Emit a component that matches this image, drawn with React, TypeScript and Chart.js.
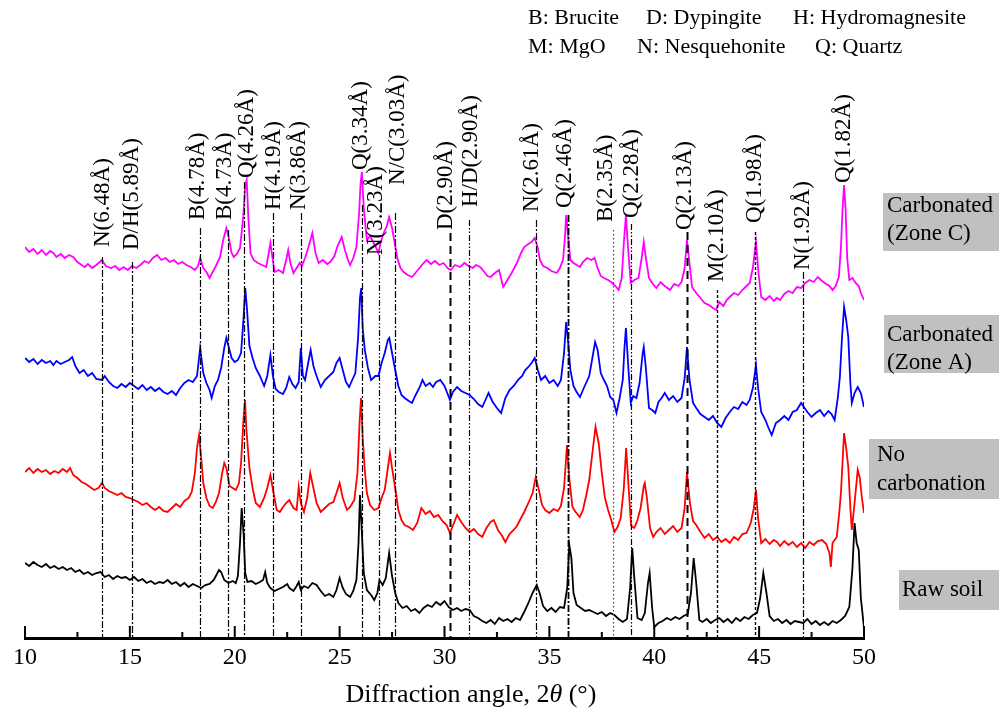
import React, { useEffect, useRef } from 'react';
import { Chart, registerables } from 'chart.js';

Chart.register(...registerables);

// ---------- data ----------
const xTickValues = [10, 15, 20, 25, 30, 35, 40, 45, 50];
const seriesNames = ['Raw soil', 'No carbonation', 'Carbonated (Zone A)', 'Carbonated (Zone C)'];
const seriesColors = ['#000000', '#ff0000', '#0000ff', '#ff00ff'];

// [2θ, relative intensity]
const rawSoil: number[][] = [
  [10.0, 75], [10.2, 72], [10.4, 76], [10.6, 73], [10.8, 71], [11.0, 74], [11.2, 70], [11.4, 72], [11.6, 69], [11.8, 71],
  [12.0, 68], [12.2, 70], [12.4, 66], [12.6, 68], [12.8, 64], [13.0, 66], [13.2, 63], [13.4, 65], [13.6, 66], [13.8, 61],
  [14.0, 63], [14.2, 59], [14.4, 62], [14.6, 60], [14.8, 61], [15.0, 58], [15.2, 61], [15.4, 57], [15.6, 59], [15.8, 55],
  [16.0, 57], [16.2, 54], [16.4, 56], [16.6, 55], [16.8, 58], [17.0, 54], [17.2, 56], [17.4, 52], [17.6, 55], [17.8, 51],
  [18.0, 54], [18.2, 52], [18.4, 50], [18.6, 53], [18.8, 54], [19.0, 58], [19.15, 64], [19.25, 68], [19.35, 66], [19.5, 58],
  [19.7, 55], [19.9, 57], [20.05, 55], [20.15, 62], [20.25, 95], [20.33, 130], [20.42, 105], [20.5, 65], [20.6, 56], [20.8, 57],
  [21.0, 54], [21.2, 56], [21.35, 58], [21.45, 66], [21.55, 55], [21.7, 50], [21.9, 47], [22.1, 49], [22.3, 51], [22.5, 54],
  [22.6, 50], [22.8, 47], [22.95, 52], [23.05, 56], [23.15, 48], [23.3, 52], [23.5, 50], [23.7, 55], [23.9, 53], [24.1, 47],
  [24.3, 42], [24.5, 44], [24.7, 41], [24.85, 48], [25.0, 60], [25.15, 50], [25.3, 44], [25.5, 41], [25.65, 47], [25.8, 58],
  [25.9, 95], [25.97, 143], [26.05, 110], [26.15, 65], [26.3, 48], [26.5, 43], [26.65, 38], [26.8, 45], [26.9, 58], [27.05, 53],
  [27.2, 60], [27.36, 85], [27.5, 62], [27.65, 45], [27.8, 35], [28.0, 30], [28.2, 32], [28.4, 27], [28.6, 29], [28.8, 25],
  [29.0, 30], [29.2, 33], [29.4, 31], [29.6, 36], [29.8, 33], [30.0, 37], [30.2, 31], [30.4, 28], [30.6, 30], [30.8, 27],
  [31.0, 29], [31.2, 28], [31.4, 22], [31.6, 20], [31.8, 17], [32.0, 15], [32.2, 18], [32.4, 14], [32.6, 20], [32.8, 17],
  [33.0, 19], [33.2, 16], [33.4, 20], [33.6, 18], [33.8, 26], [34.0, 35], [34.2, 45], [34.4, 53], [34.55, 44], [34.7, 32],
  [34.9, 27], [35.1, 30], [35.3, 26], [35.5, 31], [35.7, 30], [35.85, 50], [35.95, 93], [36.05, 80], [36.15, 45], [36.3, 33],
  [36.5, 30], [36.7, 27], [36.9, 28], [37.1, 26], [37.3, 24], [37.5, 26], [37.7, 22], [37.9, 25], [38.1, 23], [38.3, 19],
  [38.5, 16], [38.7, 19], [38.85, 50], [38.95, 90], [39.05, 60], [39.2, 20], [39.4, 18], [39.55, 25], [39.7, 55], [39.78, 65],
  [39.9, 30], [40.0, 11], [40.2, 15], [40.4, 17], [40.6, 20], [40.8, 18], [41.0, 21], [41.2, 19], [41.4, 22], [41.6, 24],
  [41.75, 45], [41.88, 80], [42.0, 55], [42.15, 18], [42.3, 16], [42.5, 19], [42.7, 15], [42.9, 18], [43.1, 20], [43.3, 16],
  [43.5, 19], [43.7, 15], [43.9, 20], [44.1, 17], [44.3, 21], [44.5, 19], [44.7, 23], [44.9, 25], [45.05, 40], [45.2, 65],
  [45.35, 45], [45.5, 22], [45.7, 17], [45.9, 19], [46.1, 15], [46.3, 18], [46.5, 14], [46.7, 17], [46.9, 16], [47.1, 15],
  [47.3, 19], [47.5, 14], [47.7, 17], [47.9, 13], [48.1, 16], [48.3, 13], [48.5, 17], [48.7, 15], [48.9, 18], [49.1, 22],
  [49.3, 31], [49.45, 70], [49.55, 115], [49.65, 95], [49.75, 88], [49.85, 40], [50.0, 10],
];

const noCarbonation: number[][] = [
  [10.0, 166], [10.2, 170], [10.4, 165], [10.6, 169], [10.8, 166], [11.0, 168], [11.2, 164], [11.4, 167], [11.6, 165], [11.8, 169],
  [12.0, 166], [12.15, 170], [12.3, 163], [12.5, 160], [12.7, 156], [12.9, 154], [13.1, 151], [13.3, 148], [13.5, 150], [13.67, 155],
  [13.8, 150], [14.0, 147], [14.2, 145], [14.4, 143], [14.6, 145], [14.8, 141], [15.0, 140], [15.2, 138], [15.4, 136], [15.6, 133],
  [15.8, 135], [16.0, 131], [16.2, 128], [16.4, 131], [16.6, 127], [16.8, 126], [17.0, 130], [17.2, 134], [17.4, 131], [17.6, 137],
  [17.8, 140], [17.95, 146], [18.1, 165], [18.2, 190], [18.3, 203], [18.4, 180], [18.5, 155], [18.65, 140], [18.8, 132], [18.95, 130],
  [19.1, 136], [19.25, 145], [19.4, 165], [19.5, 175], [19.6, 170], [19.75, 152], [19.9, 150], [20.05, 148], [20.2, 155], [20.3, 175],
  [20.42, 220], [20.49, 238], [20.55, 210], [20.7, 170], [20.85, 150], [21.0, 135], [21.2, 131], [21.4, 140], [21.55, 150], [21.7, 163],
  [21.85, 145], [22.0, 128], [22.15, 126], [22.3, 131], [22.45, 135], [22.6, 138], [22.8, 130], [22.95, 128], [23.05, 151], [23.15, 135],
  [23.3, 126], [23.45, 140], [23.6, 165], [23.75, 150], [23.9, 135], [24.1, 126], [24.3, 130], [24.5, 134], [24.7, 136], [24.85, 145],
  [25.0, 155], [25.15, 140], [25.35, 128], [25.5, 131], [25.7, 138], [25.85, 165], [25.95, 215], [26.02, 240], [26.1, 200], [26.2, 168],
  [26.3, 145], [26.45, 133], [26.65, 128], [26.85, 130], [27.0, 140], [27.15, 148], [27.3, 170], [27.4, 185], [27.5, 170], [27.65, 150],
  [27.8, 128], [27.95, 118], [28.1, 113], [28.3, 111], [28.5, 108], [28.7, 115], [28.9, 130], [29.1, 124], [29.3, 127], [29.5, 121],
  [29.7, 123], [29.9, 117], [30.1, 113], [30.26, 105], [30.45, 115], [30.6, 123], [30.8, 116], [31.0, 110], [31.2, 106], [31.4, 109],
  [31.6, 104], [31.8, 101], [32.0, 110], [32.2, 116], [32.35, 118], [32.55, 108], [32.75, 102], [32.9, 96], [33.1, 104], [33.3, 108],
  [33.45, 112], [33.6, 118], [33.8, 126], [34.0, 135], [34.2, 145], [34.35, 161], [34.5, 148], [34.65, 133], [34.8, 128], [35.0, 125],
  [35.2, 129], [35.4, 127], [35.55, 132], [35.7, 150], [35.84, 193], [35.95, 160], [36.1, 131], [36.25, 126], [36.45, 121], [36.6, 128],
  [36.75, 142], [36.9, 158], [37.05, 185], [37.2, 211], [37.35, 195], [37.5, 165], [37.65, 140], [37.8, 128], [37.95, 118], [38.1, 106],
  [38.25, 111], [38.4, 120], [38.55, 150], [38.66, 190], [38.78, 150], [38.9, 112], [39.05, 110], [39.2, 118], [39.35, 130], [39.5, 152],
  [39.55, 155], [39.65, 140], [39.8, 110], [39.95, 101], [40.1, 106], [40.3, 110], [40.5, 104], [40.7, 108], [40.9, 112], [41.1, 106],
  [41.3, 110], [41.45, 130], [41.56, 166], [41.7, 135], [41.85, 117], [42.0, 113], [42.2, 106], [42.4, 100], [42.6, 104], [42.8, 98],
  [43.0, 101], [43.2, 96], [43.4, 99], [43.6, 95], [43.8, 101], [44.0, 98], [44.2, 104], [44.4, 105], [44.6, 115], [44.75, 130],
  [44.85, 148], [44.95, 120], [45.1, 95], [45.3, 99], [45.5, 94], [45.7, 98], [45.85, 96], [46.0, 92], [46.2, 97], [46.4, 93],
  [46.6, 96], [46.8, 91], [47.0, 95], [47.2, 90], [47.4, 96], [47.6, 93], [47.8, 97], [48.0, 98], [48.2, 94], [48.35, 85],
  [48.42, 71], [48.5, 95], [48.7, 101], [48.82, 125], [48.9, 145], [49.05, 205], [49.15, 190], [49.25, 171], [49.35, 130], [49.42, 108],
  [49.55, 135], [49.7, 168], [49.8, 160], [49.9, 140], [50.0, 125],
];

const zoneA: number[][] = [
  [10.0, 280], [10.2, 276], [10.4, 279], [10.6, 274], [10.8, 278], [11.0, 275], [11.2, 277], [11.35, 273], [11.5, 277], [11.7, 274],
  [11.9, 276], [12.1, 278], [12.25, 281], [12.4, 272], [12.6, 265], [12.8, 268], [13.0, 262], [13.2, 265], [13.4, 259], [13.67, 258],
  [13.8, 262], [14.0, 256], [14.2, 252], [14.4, 250], [14.6, 254], [14.8, 251], [15.0, 255], [15.2, 252], [15.4, 249], [15.6, 253],
  [15.8, 248], [16.0, 251], [16.2, 247], [16.4, 250], [16.6, 246], [16.8, 244], [17.0, 247], [17.2, 243], [17.4, 250], [17.6, 255],
  [17.8, 258], [18.0, 256], [18.2, 262], [18.35, 290], [18.5, 265], [18.65, 255], [18.8, 248], [18.9, 240], [19.05, 252], [19.2, 258],
  [19.35, 270], [19.5, 290], [19.6, 300], [19.7, 292], [19.85, 280], [20.0, 276], [20.15, 278], [20.3, 285], [20.42, 320], [20.5, 350],
  [20.58, 330], [20.7, 292], [20.85, 280], [21.0, 270], [21.2, 262], [21.4, 252], [21.55, 262], [21.7, 283], [21.82, 262], [21.95, 249],
  [22.1, 246], [22.3, 244], [22.45, 250], [22.6, 261], [22.75, 254], [22.9, 250], [23.05, 256], [23.15, 290], [23.25, 262], [23.35, 258],
  [23.5, 275], [23.62, 288], [23.75, 272], [23.9, 262], [24.1, 251], [24.3, 258], [24.5, 262], [24.7, 266], [24.85, 275], [25.0, 280],
  [25.15, 268], [25.3, 256], [25.45, 251], [25.6, 258], [25.75, 265], [25.88, 300], [25.97, 340], [26.03, 350], [26.1, 310], [26.2, 288],
  [26.35, 270], [26.5, 258], [26.7, 262], [26.85, 262], [27.0, 275], [27.15, 285], [27.3, 298], [27.37, 300], [27.5, 285], [27.65, 268],
  [27.8, 252], [27.95, 243], [28.1, 240], [28.3, 237], [28.45, 235], [28.6, 242], [28.8, 250], [28.95, 258], [29.1, 252], [29.3, 255],
  [29.45, 251], [29.6, 256], [29.8, 258], [30.0, 252], [30.15, 244], [30.26, 238], [30.4, 246], [30.6, 251], [30.8, 247], [31.0, 245],
  [31.2, 243], [31.4, 239], [31.6, 234], [31.8, 231], [31.95, 238], [32.1, 245], [32.3, 236], [32.5, 230], [32.7, 225], [32.9, 240],
  [33.1, 248], [33.3, 252], [33.5, 258], [33.7, 262], [33.85, 268], [34.0, 271], [34.15, 275], [34.3, 280], [34.45, 268], [34.6, 258],
  [34.8, 262], [35.0, 255], [35.2, 258], [35.4, 252], [35.55, 258], [35.7, 285], [35.8, 316], [35.9, 295], [36.0, 268], [36.15, 252],
  [36.3, 246], [36.46, 241], [36.6, 248], [36.75, 255], [36.9, 262], [37.05, 280], [37.18, 296], [37.3, 288], [37.45, 265], [37.6, 258],
  [37.75, 252], [37.9, 241], [38.05, 238], [38.2, 225], [38.35, 240], [38.5, 258], [38.58, 290], [38.65, 310], [38.75, 275], [38.88, 235],
  [39.0, 242], [39.15, 240], [39.3, 255], [39.45, 285], [39.5, 291], [39.6, 270], [39.75, 230], [39.9, 228], [40.05, 225], [40.2, 236],
  [40.35, 240], [40.5, 245], [40.7, 238], [40.9, 242], [41.1, 236], [41.3, 240], [41.45, 260], [41.56, 291], [41.68, 258], [41.85, 235],
  [42.0, 230], [42.2, 224], [42.4, 221], [42.6, 218], [42.8, 222], [43.0, 215], [43.2, 211], [43.4, 220], [43.6, 226], [43.8, 231],
  [44.0, 229], [44.2, 236], [44.4, 233], [44.55, 238], [44.7, 250], [44.85, 273], [44.95, 250], [45.1, 226], [45.3, 218], [45.45, 210],
  [45.6, 203], [45.8, 215], [46.0, 218], [46.2, 222], [46.4, 218], [46.6, 226], [46.8, 228], [47.0, 235], [47.1, 232], [47.3, 226],
  [47.5, 221], [47.7, 225], [47.9, 228], [48.1, 222], [48.3, 227], [48.45, 224], [48.6, 218], [48.75, 240], [48.85, 261], [48.95, 300],
  [49.05, 331], [49.15, 318], [49.25, 301], [49.35, 255], [49.42, 235], [49.55, 245], [49.7, 251], [49.85, 245], [50.0, 231],
];

const zoneC: number[][] = [
  [10.0, 391], [10.2, 386], [10.4, 389], [10.6, 384], [10.8, 388], [11.0, 383], [11.2, 387], [11.35, 385], [11.5, 381], [11.7, 384],
  [11.9, 380], [12.1, 383], [12.3, 381], [12.5, 376], [12.7, 373], [12.85, 371], [13.0, 374], [13.2, 370], [13.4, 373], [13.67, 378],
  [13.85, 372], [14.1, 370], [14.3, 372], [14.5, 368], [14.7, 371], [14.9, 368], [15.1, 372], [15.3, 370], [15.5, 373], [15.7, 377],
  [15.9, 375], [16.1, 380], [16.3, 383], [16.5, 378], [16.7, 380], [16.9, 376], [17.1, 378], [17.3, 374], [17.5, 376], [17.7, 373],
  [17.9, 371], [18.1, 368], [18.25, 372], [18.35, 380], [18.5, 370], [18.65, 366], [18.8, 360], [18.95, 366], [19.1, 372], [19.3, 381],
  [19.45, 398], [19.6, 410], [19.72, 400], [19.85, 385], [19.95, 381], [20.1, 384], [20.25, 390], [20.4, 420], [20.5, 452], [20.57, 458],
  [20.65, 420], [20.75, 385], [20.9, 378], [21.1, 375], [21.3, 373], [21.5, 371], [21.62, 385], [21.7, 395], [21.8, 380], [21.9, 366],
  [22.1, 368], [22.3, 365], [22.45, 378], [22.55, 388], [22.65, 375], [22.8, 365], [22.95, 370], [23.1, 375], [23.2, 372], [23.35, 380],
  [23.5, 390], [23.7, 405], [23.85, 385], [24.0, 375], [24.2, 378], [24.4, 374], [24.55, 376], [24.75, 382], [24.9, 392], [25.1, 401],
  [25.25, 388], [25.4, 378], [25.5, 373], [25.65, 380], [25.8, 391], [25.93, 425], [26.0, 455], [26.06, 466], [26.15, 430], [26.3, 398],
  [26.45, 402], [26.55, 398], [26.7, 392], [26.85, 385], [26.95, 395], [27.1, 405], [27.25, 412], [27.36, 421], [27.5, 410], [27.6, 398],
  [27.75, 380], [27.9, 370], [28.05, 366], [28.25, 363], [28.45, 361], [28.65, 366], [28.85, 371], [29.0, 375], [29.15, 378], [29.35, 374],
  [29.55, 377], [29.75, 373], [29.95, 375], [30.15, 370], [30.3, 368], [30.5, 373], [30.74, 371], [30.95, 375], [31.15, 372], [31.35, 370],
  [31.5, 373], [31.7, 371], [31.9, 366], [32.05, 362], [32.2, 361], [32.4, 365], [32.6, 368], [32.8, 351], [33.0, 358], [33.2, 365],
  [33.45, 375], [33.65, 385], [33.8, 391], [34.0, 394], [34.15, 396], [34.3, 400], [34.45, 390], [34.55, 378], [34.7, 372], [34.9, 370],
  [35.1, 367], [35.35, 365], [35.5, 370], [35.65, 378], [35.74, 400], [35.8, 423], [35.88, 405], [36.0, 378], [36.15, 375], [36.3, 373],
  [36.46, 371], [36.6, 376], [36.8, 380], [37.0, 378], [37.15, 380], [37.3, 370], [37.45, 362], [37.6, 360], [37.8, 358], [38.0, 355],
  [38.15, 352], [38.3, 348], [38.45, 360], [38.55, 395], [38.65, 423], [38.75, 390], [38.88, 355], [39.05, 358], [39.25, 360], [39.4, 380],
  [39.5, 396], [39.6, 380], [39.75, 360], [39.9, 355], [40.1, 350], [40.3, 356], [40.5, 352], [40.75, 348], [40.95, 354], [41.15, 352],
  [41.3, 356], [41.45, 370], [41.56, 398], [41.68, 375], [41.8, 351], [42.0, 345], [42.2, 340], [42.4, 335], [42.6, 333], [42.8, 330],
  [42.95, 328], [43.1, 336], [43.3, 332], [43.45, 338], [43.6, 341], [43.8, 345], [44.0, 343], [44.2, 348], [44.4, 352], [44.55, 355],
  [44.7, 370], [44.85, 396], [44.97, 365], [45.1, 341], [45.3, 338], [45.5, 342], [45.7, 337], [45.85, 340], [46.0, 338], [46.2, 344],
  [46.4, 347], [46.6, 345], [46.8, 351], [47.0, 350], [47.2, 355], [47.4, 358], [47.6, 356], [47.8, 361], [48.0, 357], [48.2, 354],
  [48.35, 352], [48.5, 348], [48.65, 352], [48.8, 361], [48.9, 390], [48.98, 430], [49.05, 453], [49.12, 430], [49.2, 380], [49.3, 358],
  [49.45, 360], [49.6, 355], [49.75, 352], [49.85, 345], [50.0, 338],
];

const peakAngles = [13.67, 15.1, 18.35, 19.68, 20.44, 21.83, 23.16, 26.07, 26.88, 27.64, 30.26, 31.17, 34.36, 35.89, 38.03, 38.89, 41.56, 42.99, 44.8, 47.09, 49.05];
const peakLabels = ['N(6.48Å)', 'D/H(5.89Å)', 'B(4.78Å)', 'B(4.73Å)', 'Q(4.26Å)', 'H(4.19Å)', 'N(3.86Å)', 'Q(3.34Å)', 'N(3.23Å)', 'N/C(3.03Å)', 'D(2.90Å)', 'H/D(2.90Å)', 'N(2.61Å)', 'Q(2.46Å)', 'B(2.35Å)', 'Q(2.28Å)', 'Q(2.13Å)', 'M(2.10Å)', 'Q(1.98Å)', 'N(1.92Å)', 'Q(1.82Å)'];
const phaseLegendRows = [
  ['B: Brucite', 'D: Dypingite', 'H: Hydromagnesite'],
  ['M: MgO', 'N: Nesquehonite', 'Q: Quartz'],
];
const sampleBoxLines = [['Raw soil'], ['No', 'carbonation'], ['Carbonated', '(Zone A)'], ['Carbonated', '(Zone C)']];

// ---------- layout / style (pixels) ----------
const W = 999;
const H = 715;
const SERIF = '"Liberation Serif", "Times New Roman", serif';
const labelBottomY = [247, 250, 220, 220, 178, 210, 210, 170, 255, 185, 230, 207, 212, 208, 222, 218, 230, 282, 223, 270, 183];
const lineTopY = [257, 262, 228, 230, 182, 213, 213, 205, 255, 213, 233, 220, 220, 215, 230, 224, 232, 290, 232, 272, -1];
const labelDx = [1, 0, -2, -3, 3, 1, -2, -1, -3, 3, -4, 2, -4, -3, -7, 1, -2, 0, 0, 0, 0];
const lineKinds = ['dd', 'dd', 'dd', 'dd', 'dd', 'dd', 'dd', 'dd', 'ddd', 'dd', 'dash', 'ddd', 'dd', 'ddt', 'dot', 'ddd', 'dash', 'short', 'short', 'dd', 'none'];
const legendCols = [[528, 646, 793], [528, 637, 815]];
const legendRowY = [18, 47];
const boxRects = [
  { x: 899, y: 570, w: 100, h: 40, tx: 902, ty: [590] },
  { x: 869, y: 439, w: 130, h: 60, tx: 877, ty: [455, 484] },
  { x: 884, y: 315, w: 115, h: 58, tx: 887, ty: [335, 363] },
  { x: 883, y: 193, w: 116, h: 58, tx: 887, ty: [206, 234] },
];

const decorPlugin = {
  id: 'xrdDecor',
  afterDatasetsDraw(chart: any) {
    const { ctx, chartArea } = chart;
    const xs = chart.scales.x;
    const bottom = chartArea.bottom;
    // reference lines
    peakAngles.forEach((a, i) => {
      const kind = lineKinds[i];
      if (kind === 'none') return;
      const px = Math.round(xs.getPixelForValue(a)) + 0.5;
      ctx.save();
      ctx.strokeStyle = '#000';
      ctx.lineWidth = 1.2;
      if (kind === 'dd') ctx.setLineDash([7, 2, 2, 2]);
      else if (kind === 'ddt') { ctx.setLineDash([7, 2, 2, 2]); ctx.lineWidth = 1.8; }
      else if (kind === 'ddd') ctx.setLineDash([6, 2, 1.5, 2, 1.5, 2]);
      else if (kind === 'dash') { ctx.setLineDash([8, 5]); ctx.lineWidth = 2; }
      else if (kind === 'dot') { ctx.setLineDash([1.5, 2.5]); ctx.strokeStyle = '#444'; }
      else if (kind === 'short') { ctx.setLineDash([3, 2]); ctx.lineWidth = 1.4; }
      ctx.beginPath();
      ctx.moveTo(px, lineTopY[i]);
      ctx.lineTo(px, bottom);
      ctx.stroke();
      ctx.restore();
    });
    // labels
    ctx.save();
    ctx.fillStyle = '#000';
    ctx.font = `23px ${SERIF}`;
    ctx.textAlign = 'left';
    ctx.textBaseline = 'middle';
    peakAngles.forEach((a, i) => {
      const px = xs.getPixelForValue(a) + labelDx[i];
      ctx.save();
      ctx.translate(px, labelBottomY[i]);
      ctx.rotate(-Math.PI / 2);
      ctx.fillText(peakLabels[i], 0, 0);
      ctx.restore();
    });
    ctx.restore();
  },
  afterDraw(chart: any) {
    const { ctx, chartArea } = chart;
    const xs = chart.scales.x;
    const bottom = chartArea.bottom;
    // inward ticks
    ctx.save();
    ctx.strokeStyle = '#000';
    ctx.lineWidth = 2;
    const ticks = xs.ticks.map((t: any) => t.value);
    ticks.forEach((v: number, i: number) => {
      const px = xs.getPixelForValue(v);
      ctx.beginPath();
      ctx.moveTo(px, bottom);
      ctx.lineTo(px, bottom - 12);
      ctx.stroke();
      if (i < ticks.length - 1) {
        const mx = xs.getPixelForValue((v + ticks[i + 1]) / 2);
        ctx.beginPath();
        ctx.moveTo(mx, bottom);
        ctx.lineTo(mx, bottom - 6);
        ctx.stroke();
      }
    });
    ctx.restore();

    // phase legend
    ctx.save();
    ctx.fillStyle = '#000';
    ctx.font = `22px ${SERIF}`;
    ctx.textAlign = 'left';
    ctx.textBaseline = 'middle';
    phaseLegendRows.forEach((row, r) => {
      row.forEach((txt, c) => ctx.fillText(txt, legendCols[r][c], legendRowY[r]));
    });
    ctx.restore();

    // sample boxes
    ctx.save();
    boxRects.forEach((b, i) => {
      ctx.fillStyle = '#c0c0c0';
      ctx.fillRect(b.x, b.y, b.w, b.h);
      ctx.fillStyle = '#000';
      ctx.font = `23px ${SERIF}`;
      ctx.textAlign = 'left';
      ctx.textBaseline = 'middle';
      sampleBoxLines[i].forEach((ln, k) => ctx.fillText(ln, b.tx, b.ty[k]));
    });
    ctx.restore();

    // axis title with italic theta
    ctx.save();
    ctx.fillStyle = '#000';
    ctx.textBaseline = 'middle';
    ctx.textAlign = 'left';
    const parts = [
      { t: 'Diffraction angle, 2', f: `26px ${SERIF}` },
      { t: 'θ', f: `italic 26px ${SERIF}` },
      { t: ' (°)', f: `26px ${SERIF}` },
    ];
    let total = 0;
    parts.forEach((p) => { ctx.font = p.f; total += ctx.measureText(p.t).width; });
    let cx = 471 - total / 2;
    parts.forEach((p) => { ctx.font = p.f; ctx.fillText(p.t, cx, 695); cx += ctx.measureText(p.t).width; });
    ctx.restore();
  },
};

export default function App() {
  const ref = useRef<HTMLCanvasElement | null>(null);
  useEffect(() => {
    if (!ref.current) return;
    const series = [rawSoil, noCarbonation, zoneA, zoneC];
    const chart = new Chart(ref.current, {
      type: 'line',
      data: {
        datasets: series.map((s, i) => ({
          label: seriesNames[i],
          data: s.map((p) => ({ x: p[0], y: p[1] })),
          borderColor: seriesColors[i],
          borderWidth: 1.8,
          pointRadius: 0,
          tension: 0,
          fill: false,
        })),
      },
      options: {
        responsive: false,
        animation: false,
        devicePixelRatio: 1,
        layout: { padding: { left: 25, right: 135, top: 0, bottom: 0 } },
        plugins: { legend: { display: false }, tooltip: { enabled: false }, title: { display: false } },
        scales: {
          x: {
            type: 'linear',
            min: 10,
            max: 50,
            grid: { display: false, drawTicks: false },
            border: { display: true, color: '#000', width: 3 },
            ticks: {
              stepSize: 5,
              color: '#000',
              padding: 5,
              font: { family: SERIF, size: 24 },
              callback: (v: any) => (xTickValues.includes(Number(v)) ? String(v) : ''),
            },
            afterFit: (scale: any) => { scale.height = 77; },
          },
          y: { display: false, min: 0, max: 638 },
        },
      },
      plugins: [decorPlugin],
    });
    return () => chart.destroy();
  }, []);
  return (
    <div style={{ position: 'absolute', left: 0, top: 0, width: W, height: H, background: '#fff' }}>
      <canvas ref={ref} width={W} height={H} style={{ display: 'block', width: W, height: H }} />
    </div>
  );
}
